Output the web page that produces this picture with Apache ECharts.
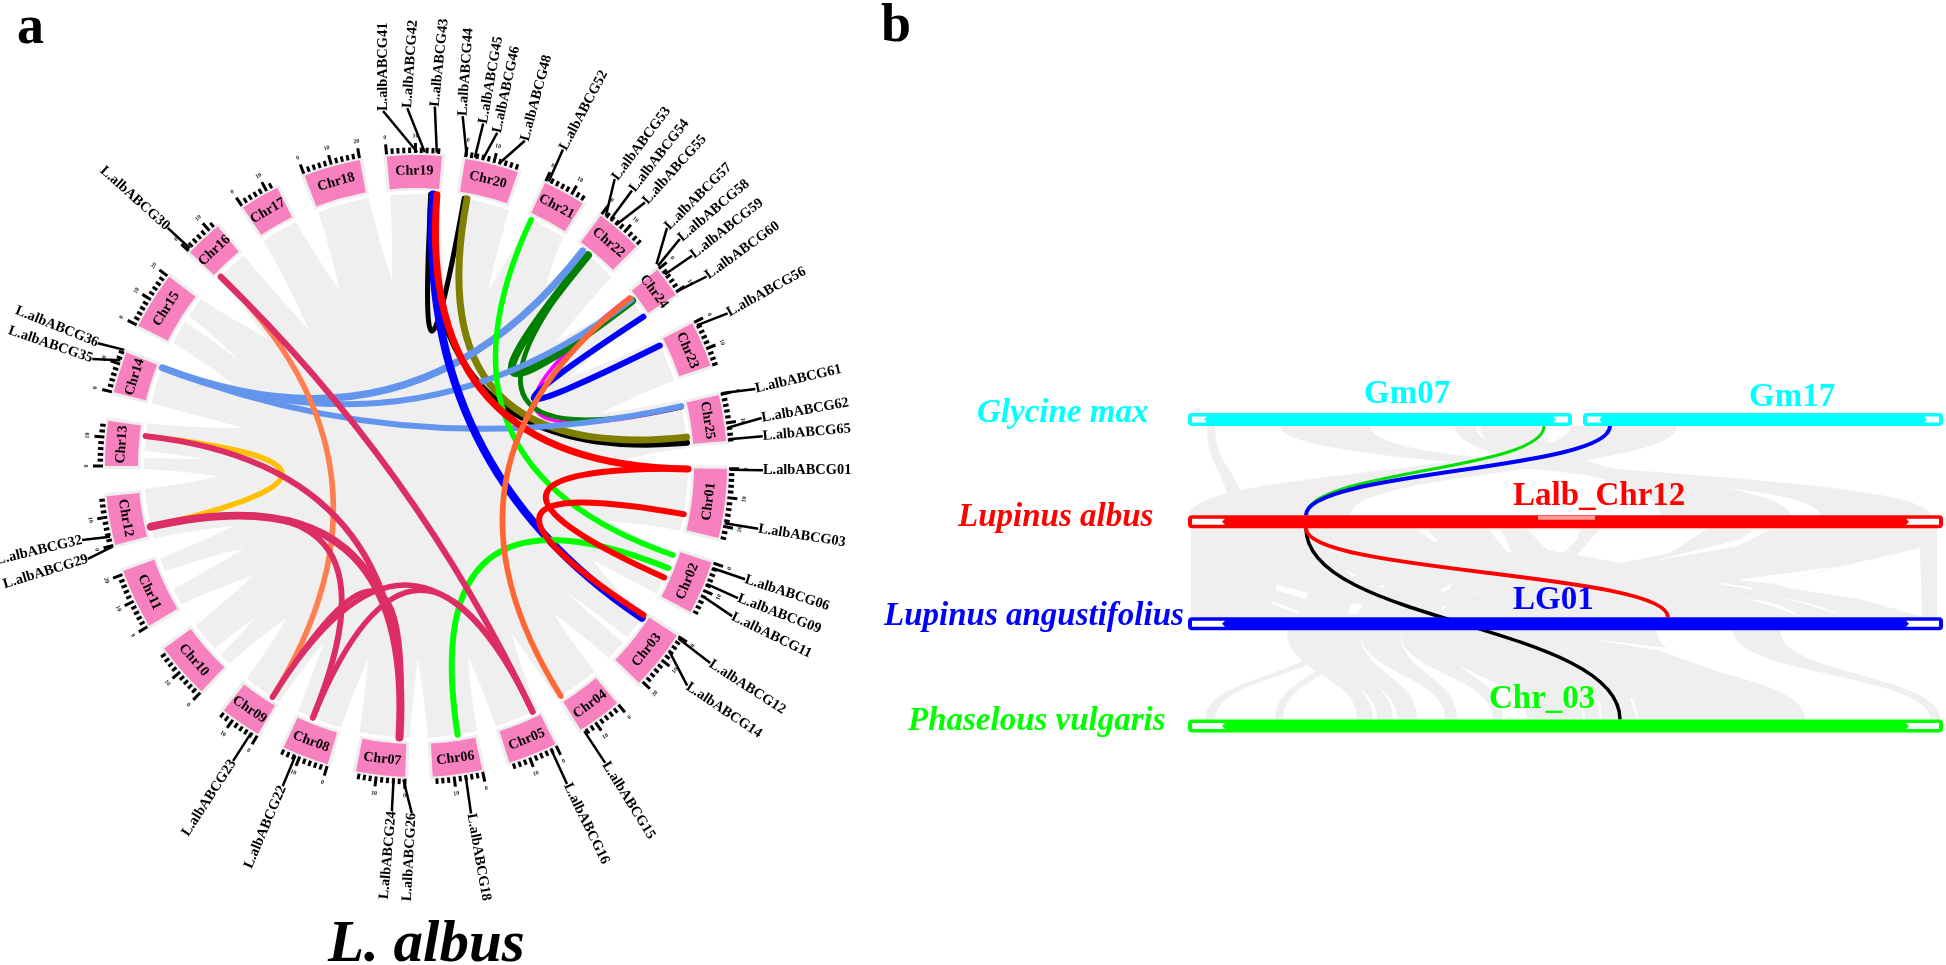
<!DOCTYPE html>
<html><head><meta charset="utf-8">
<style>html,body{margin:0;padding:0;background:#fff}#c{width:1946px;height:965px}</style>
<script src="https://cdn.jsdelivr.net/npm/echarts@6/dist/echarts.min.js"></script>
</head><body><div id="c"></div>
<script>
// ---------- panel a data: chromosomes (start angle in degrees, length in Mb) ----------
const chrNames  = ['Chr01','Chr02','Chr03','Chr04','Chr05','Chr06','Chr07','Chr08','Chr09','Chr10','Chr11','Chr12','Chr13','Chr14','Chr15','Chr16','Chr17','Chr18','Chr19','Chr20','Chr21','Chr22','Chr24','Chr23','Chr25'];
const chrStart  = [90.5,108.1,123,139.7,153.4,167.7,182,196.5,210.5,223.6,239.1,255.3,270,283.7,296.8,313.4,326.2,339,354.6,9.1,24.5,36.4,50.9,62.7,76.8];
const chrLength = [24.3,18.7,21.1,15.7,17.2,17.4,17.2,16.4,14.5,19.8,21.1,17.2,15.8,14.5,20.2,13.2,13.8,20,19.2,18.9,14.9,16.4,10.8,16,16.2];
const degPerMb = 0.53;
// gaps in the grey ribbon disc: mouth start angle, mouth end angle, tip angle, tip radius
const ribbonGaps = [[350,354.6,352.6,187],[333.8,339,336.5,191],[320.6,326,321.8,174],[307.8,313.4,310.7,196],[302,303.5,300.8,205],[291.6,296.9,294,200],[279,283.3,282.4,177],[271.7,273.2,271.9,213],[265.1,269.4,267,198],[250.1,254.6,251.8,192],[243.1,247.3,244.4,190],[234.1,239.5,236,197],[225.9,227.8,226.7,219],[218.5,223.4,220.3,199],[205.7,210.1,207.6,201],[192,196,194,199],[177.5,181.3,179.4,192],[162.9,167.1,164.7,197],[148.8,153.5,150.3,193],[134.9,139,137,201],[129,130.5,130,194],[118,123.2,118,200],[103.7,108.6,106,199],[86.2,90,88.6,201],[71.6,76,74.2,191],[56.8,62.5,59.8,175],[46,51.9,48.4,188],[32.7,37.9,35.7,224],[20,24.7,22.4,189],[5,10,10.5,171]];
// collinear links: chrA, Mb, chrB, Mb, colour, width
const links = [
 ['Chr19',16.2,'Chr20',2.1,'#000000',5],['Chr19',16.2,'Chr25',15.7,'#000000',6],
 ['Chr20',3.2,'Chr25',13.4,'#7f7f00',7],
 ['Chr24',1.5,'Chr25',1.5,'#ff00ff',4],
 ['Chr22',5.3,'Chr24',3.2,'#007f00',8],['Chr22',5.3,'Chr25',1.2,'#007f00',5],
 ['Chr14',14.1,'Chr22',2.6,'#6495ed',7],['Chr14',14.1,'Chr24',2.8,'#6495ed',6],['Chr14',14.1,'Chr25',0.9,'#6495ed',6],
 ['Chr19',17,'Chr03',1.7,'#0000ff',8],['Chr24',11,'Chr23',1.9,'#0000ff',6],
 ['Chr21',1,'Chr02',1.9,'#00ff00',5.5],['Chr06',6.6,'Chr02',7.4,'#00ff00',6],
 ['Chr19',18.5,'Chr01',0.2,'#ff0000',7],['Chr01',0.2,'Chr02',11.5,'#ff0000',6],['Chr01',18.3,'Chr03',0.4,'#ff0000',6],
 ['Chr24',1.9,'Chr04',15.3,'#ff6633',5.5],
 ['Chr13',11.9,'Chr12',3.4,'#ffc000',5.5],
 ['Chr16',1.5,'Chr09',2.5,'#ff7f50',5.5],
 ['Chr16',1.3,'Chr05',2.3,'#dc2d64',6],['Chr13',11.9,'Chr07',2.8,'#dc2d64',6],['Chr12',3.4,'Chr07',2.8,'#dc2d64',8],['Chr12',3.4,'Chr08',10.9,'#dc2d64',6],['Chr08',10.9,'Chr05',2.3,'#dc2d64',5.5],['Chr09',2.5,'Chr05',2.3,'#dc2d64',5.5],['Chr09',2.5,'Chr07',2.8,'#dc2d64',5.5]
];
// gene labels: name, attach angle, label angle, label radius, text rotation
const genes = [
 ['L.albABCG41',0.2,354.7,356.5,90],['L.albABCG42',1.6,358.6,358,86],['L.albABCG43',3.8,3,360,84],['L.albABCG44',9.3,7.6,353,86],['L.albABCG45',10.8,11.1,349,80],['L.albABCG46',12.3,13.7,343,78],['L.albABCG48',15.4,18.5,343,75],['L.albABCG52',25,24.9,349,62],
 ['L.albABCG53',37.2,34.7,349,53],['L.albABCG54',38.3,38.1,350,52],['L.albABCG55',39.7,41,349,48],['L.albABCG57',50,46.5,346,45],['L.albABCG58',50.4,49.3,348,40],['L.albABCG59',52.4,52.7,347,38],['L.albABCG60',56.2,56.9,347,36],['L.albABCG56',63.4,63.9,347,29],
 ['L.albABCG61',76.6,77.2,348,13],['L.albABCG62',83,82.1,349,10],['L.albABCG65',85.1,85.1,348,5],['L.albABCG01',90.7,90.7,347,0],['L.albABCG03',100.5,100.4,348,-9],['L.albABCG06',109,109,348,-18],['L.albABCG09',112.1,112.3,348,-21],['L.albABCG11',114.4,115.4,350,-26],
 ['L.albABCG12',123.3,123.8,354,-33],['L.albABCG14',126.2,129,349,-34],['L.albABCG15',147.6,147.5,352,-58],['L.albABCG16',154.5,154.6,352,-64],['L.albABCG18',170.9,171,352,-80],
 ['L.albABCG26',182.3,180.7,347,87],['L.albABCG24',184.1,184,346,85],['L.albABCG22',202.6,202.6,347,67],['L.albABCG23',211.7,211.8,347,57],['L.albABCG29',255.1,254.2,341,17],['L.albABCG32',257,257.5,342,13.5],['L.albABCG35',289.7,288.3,341,-19],['L.albABCG36',291.7,291.1,341,-22],['L.albABCG30',313.9,313.8,344,-42]
];
// ---------- panel b data ----------
// tracks: label, track row, start, end (track position), white end length
const trackBars = [['Gm07',0,-1,383,19],['Gm17',0,394,754,19],['Lalb_Chr12',1,-1,754,37],['LG01',2,-1,754,37],['Chr_03',3,-1,754,37]];
const barColors = ['#00ffff','#ff0000','#0000ff','#00ff00'];
const speciesNames = ['Glycine max','Lupinus albus','Lupinus angustifolius','Phaselous vulgaris'];
const speciesPos = [[-212,-0.058],[-231,0.955],[-305,1.925],[-281,2.955]];
const trackLabelPos = [[175,-0.244],[560,-0.215],[324,0.754],[324,1.776],[300,2.745]];
// grey syntenic ribbons: upper row, upper start/end, lower start/end
const greyRibbons = [
 [0,382,488,0,161],[0,91,156,631,741],[0,156,181,561,601],[0,266,286,511,591],[0,291,351,471,511],[0,18,26,40,55],
 [1,2,748,2,748],
 [2,141,156,16,26],[2,156,171,86,94],[2,98,121,168,184],[2,111,141,188,204],[2,131,171,208,228],[2,171,211,256,268],[2,211,251,304,314],[2,241,468,338,616],[2,544,591,741,751]
];
// white gaps among the ribbons, as position / row value pairs
const ribbonSlits = [
 [[411,1.072],[388,1.323],[431,1.405],[481,1.307],[518,1.072]],
 [[338,1.072],[358,1.274],[374,1.307],[388,1.176],[391,1.072]],
 [[584,1.607],[651,1.438],[731,1.258],[733,1.928],[671,1.758],[598,1.65]],
 [[549,1.568],[648,1.438],[584,1.607]],
 [[528,1.607],[564,1.666],[563,1.643],[531,1.601]],
 [[553,1.738],[584,1.83],[611,1.928],[591,1.813]],
 [[574,1.692],[631,1.83],[658,1.928],[618,1.813]],
 [[461,1.389],[548,1.241],[581,1.078],[564,1.078],[551,1.176]],
 [[88,1.617],[119,1.699],[116,1.758],[86,1.666]],
 [[83,1.781],[111,1.879],[109,1.902],[82,1.803]],
 [[163,1.797],[174,1.813],[168,1.911],[159,1.895]],
 [[156,1.47],[168,1.519],[163,1.536]],
 [[251,1.666],[264,1.601],[261,1.65],[254,1.692]],
 [[278,1.732],[298,1.65],[284,1.715]],
 [[188,1.634],[196,1.617],[193,1.65]],
 [[253,1.83],[259,1.813],[254,1.862]],
 [[228,1.08],[245,1.2],[250,1.2],[238,1.08]],
 [[300,1.08],[318,1.3],[323,1.3],[312,1.08]],
 [[398,2.143],[480,2.24],[538,2.5],[470,2.26]],
 [[441,2.73],[448,2.93],[450,2.93],[444,2.73]],
 [[391,2.75],[394,2.93],[396,2.93],[394,2.75]],
 [[408,2.75],[411,2.93],[413,2.93],[411,2.75]]
];
// coloured collinear pairs: upper row, upper position, lower row, lower position, colour, width
const trackLinks = [
 [0,355,1,117,'#00e000',3],[0,421,1,117,'#0000ff',4],[1,117,3,431,'#000000',3.5],[1,117,2,479,'#ff0000',4]
];
const faintMark = [349,406];

// ---------- helpers ----------
const serif = '"Liberation Serif"';
const norm = a => ((a % 360) + 360) % 360;
const chrAngle = (name, mb) => chrStart[chrNames.indexOf(name)] + mb * degPerMb;
const P = (api, r, a) => api.coord([r, norm(a)]);
const arcPts = (api, r0, r1, a0, a1) => {
  const pts = [], n = 12;
  for (let i = 0; i <= n; i++) pts.push(P(api, r1, a0 + (a1 - a0) * i / n));
  for (let i = n; i >= 0; i--) pts.push(P(api, r0, a0 + (a1 - a0) * i / n));
  return pts;
};
const quad = (a, c, b, t) => [(1-t)*(1-t)*a[0]+2*t*(1-t)*c[0]+t*t*b[0], (1-t)*(1-t)*a[1]+2*t*(1-t)*c[1]+t*t*b[1]];
const tangentRot = mid => { const m = norm(mid); const cw = m <= 90 ? m : (m < 270 ? m - 180 : m - 360); return -cw * Math.PI / 180; };
const polarData = arr => arr.map((_, i) => [0, 0, i]);
const cubicPts = (p0, p3, n) => {
  const ym = (p0[1] + p3[1]) / 2, out = [];
  for (let i = 0; i <= n; i++) {
    const s = i / n, u = 1 - s;
    const x = u*u*u*p0[0] + 3*u*u*s*p0[0] + 3*u*s*s*p3[0] + s*s*s*p3[0];
    const y = u*u*u*p0[1] + 3*u*u*s*ym + 3*u*s*s*ym + s*s*s*p3[1];
    out.push([x, y]);
  }
  return out;
};
const barHalf = 6.5;

const polarBase = {type:'custom', coordinateSystem:'polar', silent:true, animation:false, clip:false};
const cartBase  = {type:'custom', coordinateSystem:'cartesian2d', silent:true, animation:false, clip:false};

const series = [
 // grey disc
 Object.assign({}, polarBase, {data:[[0,0]], z:1, renderItem:(p, api) => {
   const pts = [];
   for (let a = 0; a < 360; a += 2) pts.push(P(api, 272, a));
   return {type:'polygon', shape:{points:pts}, style:{fill:'#efefef'}};
 }}),
 // white wedges between ribbon bundles
 Object.assign({}, polarBase, {data:polarData(ribbonGaps), z:2, renderItem:(p, api) => {
   const g = ribbonGaps[p.dataIndex];
   const a = P(api, 276, g[0]), b = P(api, 276, g[1]), t = P(api, g[3], g[2]);
   const rm = (276 + g[3]) / 2;
   const ca = P(api, rm, g[0] + (g[2]-g[0]) * 0.2), cb = P(api, rm, g[1] + (g[2]-g[1]) * 0.2);
   const pts = [];
   for (let i = 0; i <= 10; i++) pts.push(quad(a, ca, t, i/10));
   for (let i = 9; i >= 0; i--) pts.push(quad(b, cb, t, i/10));
   return {type:'polygon', shape:{points:pts}, style:{fill:'#ffffff'}};
 }}),
 // chromosomes, ticks and labels
 Object.assign({}, polarBase, {data:polarData(chrNames), z:3, renderItem:(p, api) => {
   const i = p.dataIndex, s = chrStart[i], e = s + chrLength[i] * degPerMb, mid = (s + e) / 2;
   const kids = [
     {type:'polygon', shape:{points:arcPts(api, 275.5, 313.5, s - 0.6, e + 0.6)}, style:{fill:'#eeeeee'}},
     {type:'polygon', shape:{points:arcPts(api, 278, 311, s, e)}, style:{fill:'#f781bf'}}
   ];
   for (let mb = 0; mb <= chrLength[i]; mb += 2) {
     const a = s + mb * degPerMb, major = mb % 10 === 0;
     const p0 = P(api, 313, a), p1 = P(api, major ? 323 : 318.5, a);
     kids.push({type:'line', shape:{x1:p0[0],y1:p0[1],x2:p1[0],y2:p1[1]}, style:{stroke:'#000', lineWidth:3}});
     if (major) {
       const q = P(api, 330, a);
       kids.push({type:'text', x:q[0], y:q[1], rotation:tangentRot(a), style:{text:String(mb), fill:'#222', font:'bold 6px '+serif, align:'center', verticalAlign:'middle'}});
     }
   }
   const c = P(api, 295, mid);
   kids.push({type:'text', x:c[0], y:c[1], rotation:tangentRot(mid), style:{text:chrNames[i], fill:'#000', font:'bold 14px '+serif, align:'center', verticalAlign:'middle'}});
   return {type:'group', children:kids};
 }}),
 // gene leaders and labels
 Object.assign({}, polarBase, {data:polarData(genes), z:4, renderItem:(p, api) => {
   const g = genes[p.dataIndex];
   const a = P(api, 314, g[1]), b = P(api, g[3], g[2]);
   const lab = norm(g[2]);
   const far = lab > 175 && lab < 320;
   return {type:'group', children:[
     {type:'line', shape:{x1:a[0],y1:a[1],x2:b[0],y2:b[1]}, style:{stroke:'#000', lineWidth:2.5}},
     {type:'text', x:b[0], y:b[1], rotation:g[4]*Math.PI/180, style:{text:g[0], fill:'#000', font:'bold 14.4px '+serif, align: far ? 'right' : 'left', verticalAlign:'middle'}}
   ]};
 }}),
 // links
 Object.assign({}, polarBase, {data:polarData(links), z:5, renderItem:(p, api) => {
   const l = links[p.dataIndex];
   const a = P(api, 272, chrAngle(l[0], l[1])), b = P(api, 272, chrAngle(l[2], l[3])), c = api.coord([0, 0]);
   return {type:'bezierCurve', shape:{x1:a[0],y1:a[1],x2:b[0],y2:b[1],cpx1:c[0],cpy1:c[1]}, style:{fill:'none', stroke:l[4], lineWidth:l[5], lineCap:'round'}};
 }}),
 // panel b: grey ribbons
 Object.assign({}, cartBase, {data:greyRibbons.map((r,i)=>[r[1],r[0],i]), z:1, renderItem:(p, api) => {
   const r = greyRibbons[p.dataIndex];
   const topA = api.coord([r[1], r[0]]), topB = api.coord([r[2], r[0]]), botA = api.coord([r[3], r[0]+1]), botB = api.coord([r[4], r[0]+1]);
   topA[1]+=barHalf; topB[1]+=barHalf; botA[1]-=barHalf; botB[1]-=barHalf;
   const pts = cubicPts(topA, botA, 28).concat(cubicPts(topB, botB, 28).reverse());
   return {type:'polygon', shape:{points:pts}, style:{fill:'#efefef'}};
 }}),
 Object.assign({}, cartBase, {data:ribbonSlits.map((r,i)=>[r[0][0],r[0][1],i]), z:2, renderItem:(p, api) => {
   return {type:'polygon', shape:{points:ribbonSlits[p.dataIndex].map(q => api.coord(q))}, style:{fill:'#ffffff'}};
 }}),
 // panel b: coloured links
 Object.assign({}, cartBase, {data:trackLinks.map((r,i)=>[r[1],r[0],i]), z:3, renderItem:(p, api) => {
   const l = trackLinks[p.dataIndex];
   const a = api.coord([l[1], l[0]]), b = api.coord([l[3], l[2]]);
   a[1]+=barHalf; b[1]-=barHalf;
   const ym = (a[1]+b[1])/2;
   return {type:'bezierCurve', shape:{x1:a[0],y1:a[1],x2:b[0],y2:b[1],cpx1:a[0],cpy1:ym,cpx2:b[0],cpy2:ym}, style:{fill:'none', stroke:l[4], lineWidth:l[5]}};
 }}),
 // panel b: tracks
 Object.assign({}, cartBase, {data:trackBars.map((b,i)=>[b[2],b[1],i]), z:4, renderItem:(p, api) => {
   const b = trackBars[p.dataIndex], col = barColors[b[1]];
   const a = api.coord([b[2], b[1]]), e = api.coord([b[3], b[1]]), y = a[1];
   const h = 3;
   const wl = a[0]+4, wr = e[0]-4, L = b[4]-4;
   const kids = [
    {type:'rect', shape:{x:a[0], y:y-barHalf, width:e[0]-a[0], height:barHalf*2, r:4}, style:{fill:col}},
    {type:'polygon', shape:{points:[[wl,y-h],[wl+L,y-h],[wl+L-3,y],[wl+L,y+h],[wl,y+h]]}, style:{fill:'#fff'}},
    {type:'polygon', shape:{points:[[wr,y-h],[wr-L,y-h],[wr-L+3,y],[wr-L,y+h],[wr,y+h]]}, style:{fill:'#fff'}}
   ];
   if (b[0] === 'Lalb_Chr12') {
     const m0 = api.coord([faintMark[0], 1]), m1 = api.coord([faintMark[1], 1]);
     kids.push({type:'rect', shape:{x:m0[0], y:y-barHalf+0.5, width:m1[0]-m0[0], height:4}, style:{fill:'#ff9a9a'}});
   }
   return {type:'group', children:kids};
 }}),
 // panel b: track names
 Object.assign({}, cartBase, {data:trackBars.map((b,i)=>[trackLabelPos[i][0],trackLabelPos[i][1],i]), z:5, renderItem:(p, api) => {
   const b = trackBars[p.dataIndex], q = api.coord(trackLabelPos[p.dataIndex]);
   return {type:'text', x:q[0], y:q[1], style:{text:b[0], fill:barColors[b[1]], font:'bold 33px '+serif, align:'left', verticalAlign:'middle'}};
 }}),
 // panel b: species names
 Object.assign({}, cartBase, {data:speciesNames.map((s,i)=>[speciesPos[i][0],speciesPos[i][1],i]), z:5, renderItem:(p, api) => {
   const q = api.coord(speciesPos[p.dataIndex]);
   return {type:'text', x:q[0], y:q[1], style:{text:speciesNames[p.dataIndex], fill:barColors[p.dataIndex], font:'italic bold 33px '+serif, align:'left', verticalAlign:'middle'}};
 }})
];

const chart = echarts.init(document.getElementById('c'), null, {renderer:'canvas'});
chart.setOption({
  backgroundColor:'#ffffff',
  animation:false,
  tooltip:{show:false},
  polar:{center:[416,466], radius:400},
  radiusAxis:{type:'value', min:0, max:400, show:false},
  angleAxis:{type:'value', min:0, max:360, startAngle:90, clockwise:true, show:false},
  grid:{left:1189, right:4, top:419.5, height:306.5},
  xAxis:{type:'value', min:0, max:753, show:false},
  yAxis:{type:'value', min:0, max:3, inverse:true, show:false},
  graphic:[
    {type:'text', x:17, y:29, z:10, style:{text:'a', fill:'#000', font:'bold 54px '+serif, align:'left', verticalAlign:'middle'}},
    {type:'text', x:881, y:27, z:10, style:{text:'b', fill:'#000', font:'bold 54px '+serif, align:'left', verticalAlign:'middle'}},
    {type:'text', x:328, y:946, z:10, style:{text:'L. albus', fill:'#000', font:'italic bold 59px '+serif, align:'left', verticalAlign:'middle'}}
  ],
  series:series
});
</script></body></html>
